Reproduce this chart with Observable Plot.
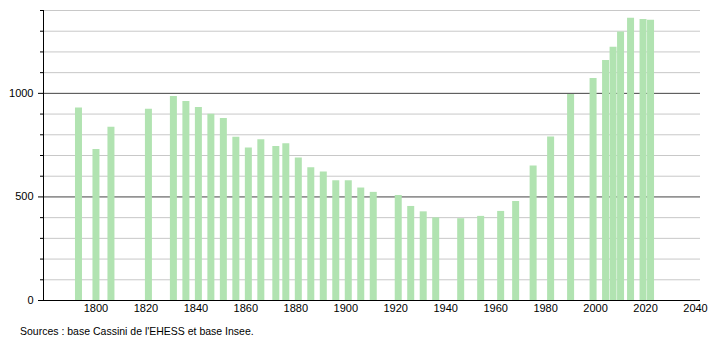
<!DOCTYPE html>
<html>
<head>
<meta charset="utf-8">
<script src="https://cdn.jsdelivr.net/npm/d3@7"></script>
<script src="https://cdn.jsdelivr.net/npm/@observablehq/plot@0.6"></script>
<style>
  html, body { margin: 0; padding: 0; background: #fff; }
  #chart { width: 710px; }
  .caption { font-family: "Liberation Sans", Arial, sans-serif; font-size: 10.5px; color: #000; margin: 3px 0 0 20px; }
</style>
</head>
<body>
<div id="chart"></div>
<script>
const years = [1793, 1800, 1806, 1821, 1831, 1836, 1841, 1846, 1851, 1856, 1861, 1866, 1872, 1876, 1881, 1886, 1891, 1896, 1901, 1906, 1911, 1921, 1926, 1931, 1936, 1946, 1954, 1962, 1968, 1975, 1982, 1990, 1999, 2004, 2007, 2010, 2014, 2019, 2022];
const population = [929, 729, 836, 923, 985, 961, 932, 899, 879, 788, 736, 776, 744, 757, 688, 641, 620, 578, 578, 543, 522, 507, 454, 428, 399, 395, 406, 430, 478, 649, 789, 994, 1072, 1159, 1222, 1296, 1362, 1357, 1353];
const xTicks = [1800, 1820, 1840, 1860, 1880, 1900, 1920, 1940, 1960, 1980, 2000, 2020, 2040];
const yLabelTicks = [0, 500, 1000];
const yMinorTicks = [100, 200, 300, 400, 600, 700, 800, 900, 1100, 1200, 1300, 1400];
const majorGrid = [500, 1000];
const caption = "Sources : base Cassini de l'EHESS et base Insee.";

const data = years.map((year, i) => ({year, pop: population[i]}));

const chart = Plot.plot({
  width: 710,
  height: 322,
  marginLeft: 43,
  marginRight: 10,
  marginTop: 10,
  marginBottom: 22,
  style: {fontFamily: "'Liberation Sans', Arial, sans-serif", fontSize: "11px", color: "#000", background: "#fff"},
  x: {domain: [1779, 2042], label: null},
  y: {domain: [0, 1400], label: null},
  marks: [
    Plot.ruleY(yMinorTicks, {stroke: "#c8c8c8", strokeWidth: 1}),
    Plot.ruleY(majorGrid, {stroke: "#444", strokeWidth: 1}),
    Plot.ruleX(data, {x: "year", y1: 0, y2: "pop", stroke: "#b1e3b1", strokeWidth: 7}),
    Plot.axisY({ticks: yMinorTicks, tickSize: 3, text: null, stroke: "#000"}),
    Plot.axisY({ticks: yLabelTicks, tickSize: 5, tickPadding: 5, stroke: "#000", tickFormat: d => String(d)}),
    Plot.ruleX([1779], {y1: 0, y2: 1400, stroke: "#000"}),
    Plot.ruleY([0], {stroke: "#000", strokeWidth: 1.2}),
    Plot.axisX({ticks: xTicks, tickSize: 0, tickPadding: 4, tickFormat: d => String(d)})
  ]
});
document.getElementById("chart").appendChild(chart);
const cap = document.createElement("div");
cap.className = "caption";
cap.textContent = caption;
document.getElementById("chart").appendChild(cap);
</script>
</body>
</html>
